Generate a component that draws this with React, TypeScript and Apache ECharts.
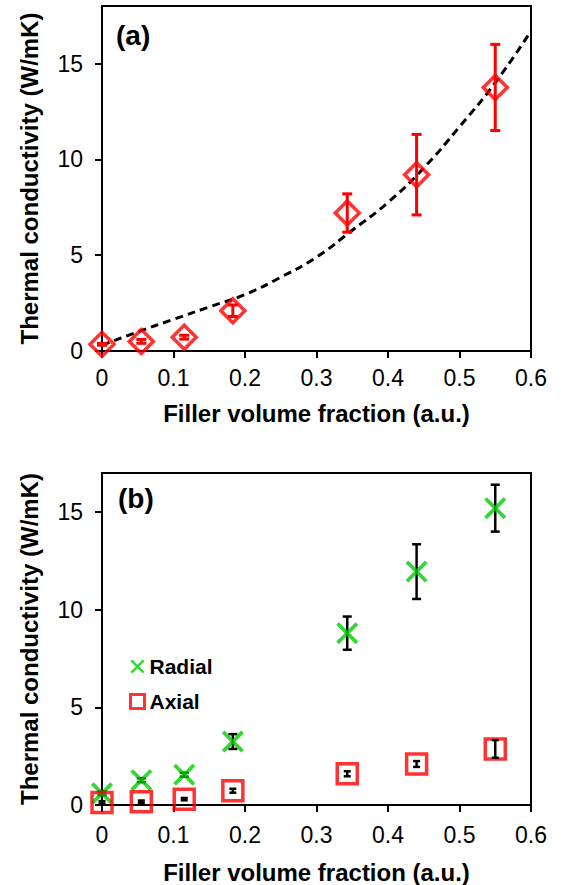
import React, { useEffect, useRef } from 'react';
import * as echarts from 'echarts';

// ---------- data ----------
const xTickValues = [0, 0.1, 0.2, 0.3, 0.4, 0.5, 0.6];
const yTickValues = [0, 5, 10, 15];

// panel (a)
const fractionA = [0, 0.055, 0.115, 0.183, 0.343, 0.44, 0.55];
const conductivityA = [0.35, 0.5, 0.72, 2.1, 7.2, 9.2, 13.75];
const errorA = [0.05, 0.1, 0.1, 0.3, 1.0, 2.1, 2.25];

// dashed fit curve in panel (a)
const fitX = [0, 0.05, 0.1, 0.15, 0.2, 0.25, 0.3, 0.35, 0.4, 0.45, 0.5, 0.55, 0.6];
const fitY = [0.3, 1.0, 1.65, 2.3, 2.95, 3.85, 4.9, 6.3, 7.75, 9.55, 11.7, 14.0, 16.7];

// panel (b)
const fractionB = [0, 0.055, 0.115, 0.183, 0.343, 0.44, 0.55];
const radialK = [0.6, 1.27, 1.55, 3.25, 8.8, 11.95, 15.2];
const radialErr = [0.1, 0.1, 0.1, 0.38, 0.85, 1.4, 1.2];
const axialK = [0.13, 0.17, 0.3, 0.73, 1.6, 2.1, 2.87];
const axialErr = [0.06, 0.06, 0.06, 0.1, 0.13, 0.15, 0.45];

const xName = 'Filler volume fraction (a.u.)';
const yName = 'Thermal conductivity (W/mK)';

const RED = '#ff0000';
const GREEN = '#00cc00';
const FONT = '"Liberation Sans", Arial, sans-serif';

const crossPath =
  'path://M0,1.2 L1.2,0 L5,3.8 L8.8,0 L10,1.2 L6.2,5 L10,8.8 L8.8,10 L5,6.2 L1.2,10 L0,8.8 L3.8,5 Z';

function errorBarSeries(
  xs: number[], ys: number[], es: number[], idx: number, color: string, cap: number, width: number, z: number,
) {
  return {
    type: 'custom',
    xAxisIndex: idx,
    yAxisIndex: idx,
    z,
    silent: true,
    data: xs.map((x, i) => [x, ys[i], es[i]]),
    encode: { x: 0, y: 1 },
    renderItem: (_params: any, api: any) => {
      const x = api.value(0);
      const y = api.value(1);
      const e = api.value(2);
      const top = api.coord([x, y + e]);
      const bot = api.coord([x, y - e]);
      const style = { stroke: color, lineWidth: width };
      return {
        type: 'group',
        children: [
          { type: 'line', shape: { x1: top[0], y1: top[1], x2: bot[0], y2: bot[1] }, style },
          { type: 'line', shape: { x1: top[0] - cap, y1: top[1], x2: top[0] + cap, y2: top[1] }, style },
          { type: 'line', shape: { x1: bot[0] - cap, y1: bot[1], x2: bot[0] + cap, y2: bot[1] }, style },
        ],
      };
    },
  };
}

function makeXAxis(gridIndex: number, labelMargin: number, nameGap: number) {
  return {
    type: 'value',
    gridIndex,
    min: 0,
    max: 0.6,
    interval: 0.1,
    name: xName,
    nameLocation: 'middle',
    nameGap,
    nameTextStyle: { fontFamily: FONT, fontSize: 24, fontWeight: 'bold', color: '#000' },
    axisLine: { show: true, onZero: false, lineStyle: { color: '#000', width: 2 } },
    axisTick: { show: true, length: 7, lineStyle: { color: '#000', width: 2 } },
    axisLabel: {
      fontFamily: FONT,
      fontSize: 23,
      color: '#000',
      margin: labelMargin,
      formatter: (v: number) => String(+v.toFixed(1)),
    },
    splitLine: { show: false },
  };
}

function makeYAxis(gridIndex: number, max: number) {
  return {
    type: 'value',
    gridIndex,
    min: 0,
    max,
    name: yName,
    nameLocation: 'middle',
    nameRotate: 90,
    nameGap: 61,
    nameTextStyle: { fontFamily: FONT, fontSize: 24, fontWeight: 'bold', color: '#000' },
    axisLine: { show: true, onZero: false, lineStyle: { color: '#000', width: 2 } },
    axisTick: { show: true, length: 7, lineStyle: { color: '#000', width: 2 }, customValues: yTickValues },
    axisLabel: { fontFamily: FONT, fontSize: 23, color: '#000', margin: 19, customValues: yTickValues },
    splitLine: { show: false },
  };
}

export default function App() {
  const ref = useRef<HTMLDivElement>(null);

  useEffect(() => {
    if (!ref.current) return;
    const chart = echarts.init(ref.current, null, { renderer: 'svg' });
    const option: any = {
      animation: false,
      backgroundColor: '#fff',
      grid: [
        { left: 102, top: 6, width: 429, height: 345, show: true, borderColor: '#000', borderWidth: 2, backgroundColor: 'transparent' },
        { left: 102, top: 473, width: 429, height: 333, show: true, borderColor: '#000', borderWidth: 2, backgroundColor: 'transparent' },
      ],
      xAxis: [makeXAxis(0, 15, 50), makeXAxis(1, 18, 55)],
      yAxis: [makeYAxis(0, 18), makeYAxis(1, 17)],
      legend: {
        orient: 'vertical',
        left: 124,
        top: 651,
        itemWidth: 14,
        itemHeight: 14,
        itemGap: 14,
        textStyle: { fontFamily: FONT, fontSize: 21, fontWeight: 'bold', color: '#000' },
        data: [
          { name: 'Radial', icon: crossPath, itemStyle: { color: GREEN, borderWidth: 0 } },
          { name: 'Axial', icon: 'rect', itemStyle: { color: '#fff', borderColor: RED, borderWidth: 3 } },
        ],
      },
      graphic: [
        { type: 'text', x: 116, y: 21, style: { text: '(a)', fontFamily: FONT, fontSize: 28, fontWeight: 'bold', fill: '#000' } },
        { type: 'text', x: 118, y: 484, style: { text: '(b)', fontFamily: FONT, fontSize: 28, fontWeight: 'bold', fill: '#000' } },
      ],
      series: [
        {
          name: 'Fit',
          type: 'line',
          xAxisIndex: 0,
          yAxisIndex: 0,
          smooth: true,
          showSymbol: false,
          silent: true,
          z: 2,
          data: fitX.map((x, i) => [x, fitY[i]]),
          lineStyle: { color: '#000', width: 3, type: [8, 5] },
        },
        errorBarSeries(fractionA, conductivityA, errorA, 0, RED, 5, 3, 3),
        {
          name: 'Panel a',
          type: 'scatter',
          xAxisIndex: 0,
          yAxisIndex: 0,
          symbol: 'diamond',
          symbolSize: 24,
          z: 4,
          data: fractionA.map((x, i) => [x, conductivityA[i]]),
          itemStyle: { color: 'rgba(255,255,255,0)', borderColor: RED, borderWidth: 3.5 },
        },
        errorBarSeries(fractionB, radialK, radialErr, 1, '#000', 4.5, 2.5, 3),
        errorBarSeries(fractionB, axialK, axialErr, 1, '#000', 3.5, 2.5, 5),
        {
          name: 'Radial',
          type: 'scatter',
          xAxisIndex: 1,
          yAxisIndex: 1,
          symbol: crossPath,
          symbolSize: 22,
          z: 4,
          data: fractionB.map((x, i) => [x, radialK[i]]),
          itemStyle: { color: GREEN },
        },
        {
          name: 'Axial',
          type: 'scatter',
          xAxisIndex: 1,
          yAxisIndex: 1,
          symbol: 'rect',
          symbolSize: 20,
          z: 4,
          data: fractionB.map((x, i) => [x, axialK[i]]),
          itemStyle: { color: 'rgba(255,255,255,0)', borderColor: RED, borderWidth: 3.5 },
        },
      ],
    };
    chart.setOption(option);
    return () => chart.dispose();
  }, []);

  return (
    <div
      ref={ref}
      style={{ position: 'absolute', left: 0, top: 0, width: 561, height: 885, background: '#fff' }}
    />
  );
}
